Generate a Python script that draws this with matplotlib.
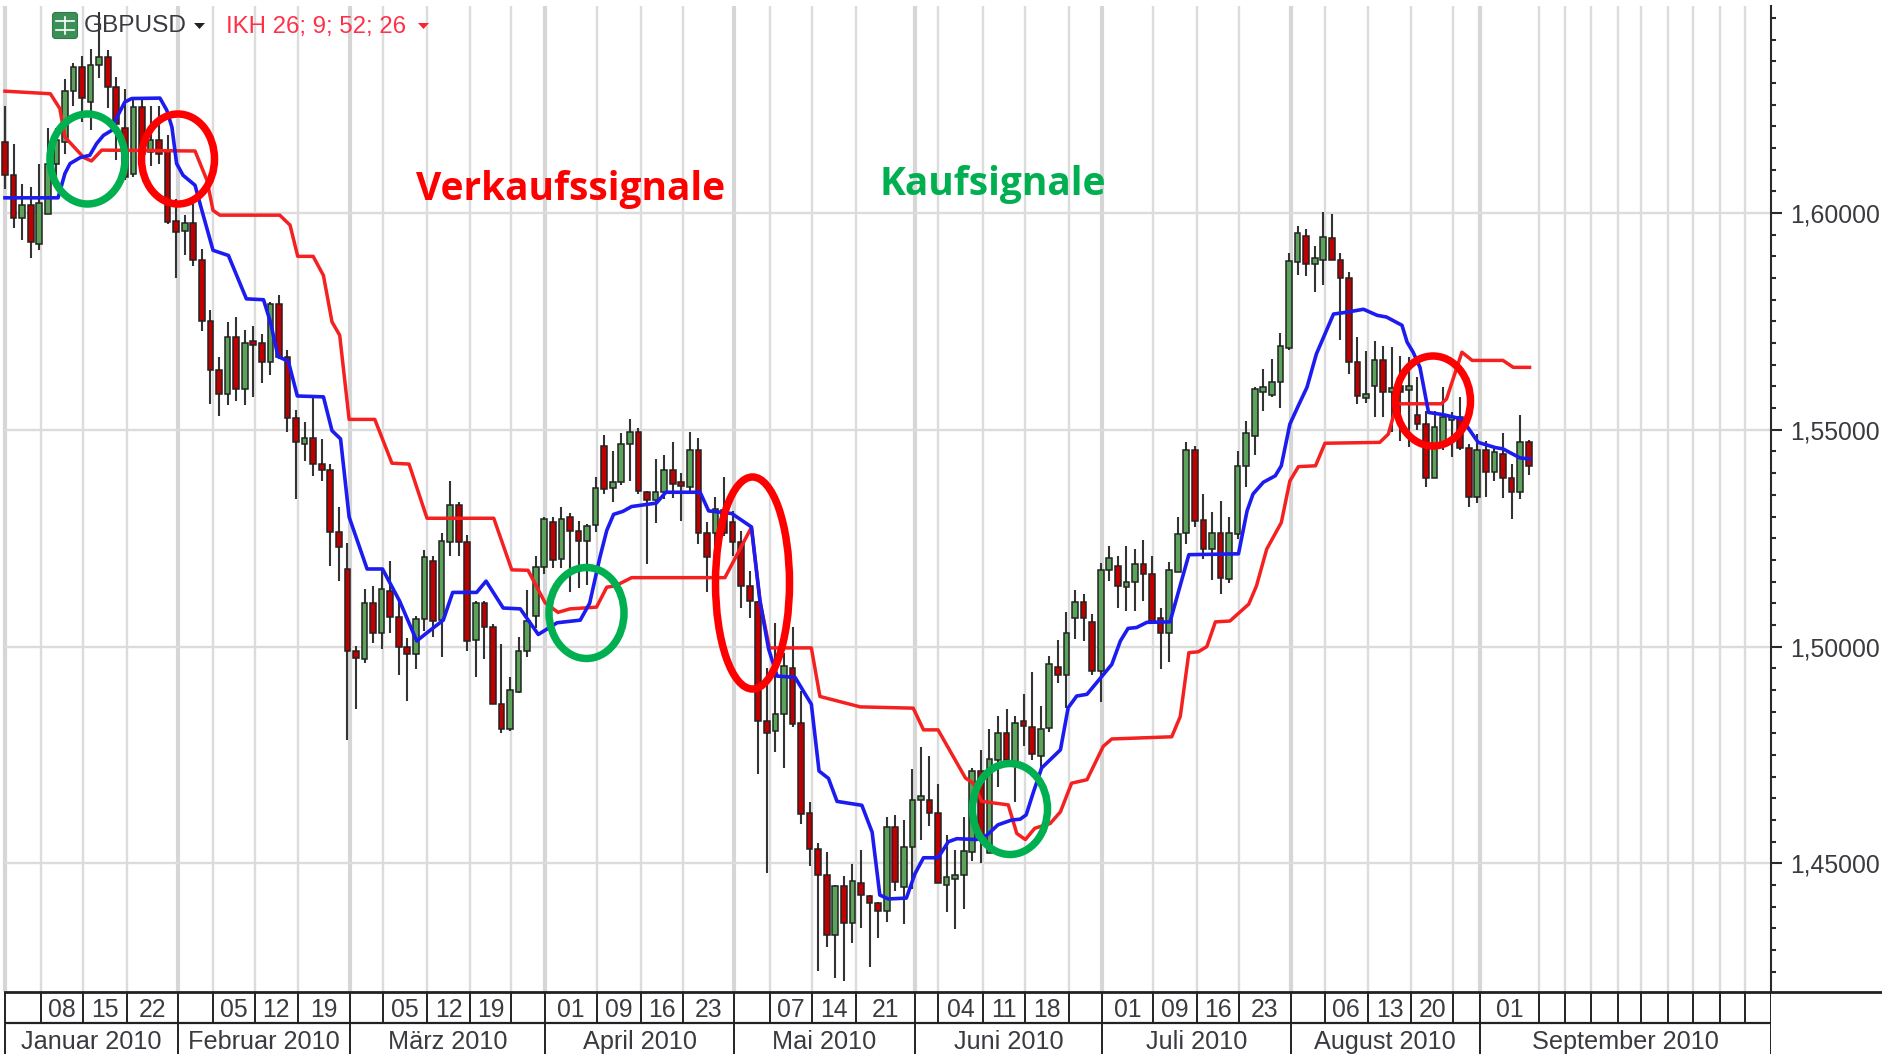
import matplotlib
matplotlib.use("Agg")
import matplotlib.pyplot as plt
from matplotlib.patches import Ellipse, FancyBboxPatch, Polygon
from matplotlib.ticker import MultipleLocator, FuncFormatter

opens = [1.6164,1.6087,1.5989,1.6018,1.5929,1.5998,1.6114,1.6164,1.6281,1.6337,
1.6256,1.6341,1.6360,1.6291,1.6195,1.6089,1.6245,1.6141,1.6169,1.6145,
1.5981,1.5958,1.5977,1.5892,1.5752,1.5637,1.5582,1.5715,1.5595,1.5705,
1.5700,1.5656,1.5789,1.5667,1.5527,1.5467,1.5481,1.5421,1.5408,1.5265,
1.5179,1.4990,1.4971,1.5101,1.5032,1.5128,1.5069,1.5000,1.4982,1.5064,
1.5198,1.5061,1.5242,1.5326,1.5242,1.5015,1.5101,1.5046,1.4867,1.4811,
1.4895,1.4990,1.5070,1.5183,1.5288,1.5202,1.5298,1.5267,1.5244,1.5280,
1.5463,1.5366,1.5379,1.5467,1.5495,1.5357,1.5338,1.5356,1.5407,1.5380,
1.5369,1.5454,1.5263,1.5263,1.5316,1.5287,1.5241,1.5140,1.5102,1.4828,
1.4806,1.4845,1.4951,1.4823,1.4617,1.4533,1.4473,1.4335,1.4447,1.4363,
1.4454,1.4425,1.4408,1.4390,1.4584,1.4445,1.4537,1.4647,1.4647,1.4617,
1.4451,1.4464,1.4473,1.4527,1.4714,1.4523,1.4739,1.4801,1.4735,1.4829,
1.4815,1.4748,1.4812,1.4954,1.4934,1.5065,1.5102,1.5056,1.4944,1.5177,
1.5185,1.5138,1.5148,1.5191,1.5168,1.5065,1.5031,1.5171,1.5263,1.5453,
1.5292,1.5226,1.5261,1.5157,1.5259,1.5416,1.5485,1.5587,1.5581,1.5610,
1.5688,1.5887,1.5948,1.5883,1.5892,1.5943,1.5892,1.5850,1.5657,1.5573,
1.5602,1.5661,1.5587,1.5602,1.5592,1.5533,1.5513,1.5388,1.5467,1.5523,
1.5529,1.5458,1.5346,1.5454,1.5402,1.5444,1.5389,1.5356,1.5473]

closes = [1.6087,1.5989,1.6018,1.5933,1.6023,1.6114,1.6168,1.6281,1.6337,1.6266,
1.6341,1.6360,1.6291,1.6206,1.6083,1.6245,1.6137,1.6169,1.6137,1.5979,
1.5956,1.5977,1.5892,1.5752,1.5637,1.5582,1.5715,1.5595,1.5701,1.5696,
1.5656,1.5789,1.5667,1.5527,1.5472,1.5481,1.5421,1.5408,1.5265,1.5229,
1.4990,1.4973,1.5101,1.5032,1.5133,1.5069,1.5000,1.4982,1.5064,1.5206,
1.5059,1.5244,1.5326,1.5242,1.5013,1.5101,1.5046,1.4867,1.4811,1.4899,
1.4990,1.5059,1.5183,1.5294,1.5200,1.5294,1.5267,1.5244,1.5279,1.5366,
1.5364,1.5380,1.5468,1.5495,1.5360,1.5338,1.5357,1.5407,1.5375,1.5370,
1.5454,1.5263,1.5206,1.5318,1.5263,1.5241,1.5140,1.5105,1.4828,1.4800,
1.4845,1.4955,1.4821,1.4615,1.4533,1.4473,1.4335,1.4447,1.4363,1.4460,
1.4427,1.4408,1.4390,1.4584,1.4458,1.4537,1.4647,1.4656,1.4617,1.4454,
1.4469,1.4473,1.4528,1.4714,1.4554,1.4741,1.4801,1.4739,1.4824,1.4818,
1.4753,1.4810,1.4959,1.4934,1.5032,1.5102,1.5065,1.4944,1.5177,1.5204,
1.5139,1.5148,1.5191,1.5168,1.5059,1.5031,1.5177,1.5259,1.5453,1.5290,
1.5226,1.5263,1.5158,1.5261,1.5417,1.5492,1.5594,1.5598,1.5611,1.5694,
1.5889,1.5954,1.5883,1.5897,1.5945,1.5892,1.5850,1.5656,1.5579,1.5583,
1.5661,1.5588,1.5597,1.5587,1.5602,1.5513,1.5388,1.5506,1.5529,1.5530,
1.5458,1.5346,1.5454,1.5402,1.5449,1.5389,1.5356,1.5473,1.5416]

highs = [1.6246,1.6158,1.6066,1.6060,1.6112,1.6195,1.6195,1.6310,1.6346,1.6361,
1.6379,1.6464,1.6375,1.6314,1.6287,1.6266,1.6266,1.6246,1.6246,1.6179,
1.6033,1.5995,1.6025,1.5918,1.5776,1.5669,1.5748,1.5761,1.5730,1.5740,
1.5721,1.5795,1.5811,1.5683,1.5546,1.5519,1.5574,1.5479,1.5421,1.5322,
1.5238,1.5002,1.5133,1.5139,1.5177,1.5198,1.5109,1.5020,1.5070,1.5222,
1.5208,1.5263,1.5382,1.5334,1.5257,1.5105,1.5105,1.5051,1.5006,1.4929,
1.5021,1.5130,1.5208,1.5299,1.5299,1.5322,1.5308,1.5290,1.5282,1.5391,
1.5488,1.5451,1.5492,1.5525,1.5505,1.5359,1.5432,1.5441,1.5473,1.5400,
1.5496,1.5482,1.5287,1.5345,1.5391,1.5312,1.5266,1.5174,1.5105,1.4951,
1.5055,1.4986,1.5046,1.4898,1.4641,1.4546,1.4526,1.4451,1.4470,1.4498,
1.4530,1.4427,1.4410,1.4608,1.4612,1.4599,1.4718,1.4769,1.4747,1.4682,
1.4566,1.4530,1.4608,1.4720,1.4761,1.4811,1.4839,1.4857,1.4839,1.4890,
1.4941,1.4863,1.4978,1.5015,1.5080,1.5131,1.5121,1.5075,1.5192,1.5233,
1.5210,1.5232,1.5224,1.5247,1.5210,1.5090,1.5196,1.5298,1.5473,1.5463,
1.5353,1.5311,1.5335,1.5298,1.5450,1.5520,1.5598,1.5640,1.5664,1.5724,
1.5908,1.5969,1.5964,1.5925,1.6002,1.5997,1.5908,1.5865,1.5714,1.5681,
1.5704,1.5694,1.5690,1.5671,1.5667,1.5621,1.5544,1.5544,1.5598,1.5540,
1.5575,1.5467,1.5490,1.5475,1.5459,1.5492,1.5421,1.5533,1.5476]

lows = [1.6056,1.5966,1.5938,1.5896,1.5914,1.5998,1.6075,1.6137,1.6246,1.6210,
1.6191,1.6312,1.6243,1.6122,1.6075,1.6083,1.6114,1.6108,1.6114,1.5975,
1.5849,1.5902,1.5877,1.5729,1.5559,1.5531,1.5557,1.5566,1.5557,1.5576,
1.5608,1.5626,1.5664,1.5494,1.5341,1.5429,1.5393,1.5383,1.5186,1.5151,
1.4784,1.4857,1.4962,1.5008,1.4994,1.5031,1.4935,1.4874,1.4948,1.5036,
1.5021,1.4975,1.5209,1.5209,1.4990,1.4929,1.4971,1.4867,1.4801,1.4806,
1.4893,1.4975,1.5044,1.5168,1.5181,1.5181,1.5126,1.5135,1.5141,1.5265,
1.5351,1.5334,1.5372,1.5382,1.5351,1.5190,1.5285,1.5340,1.5342,1.5290,
1.5356,1.5236,1.5127,1.5232,1.5254,1.5210,1.5089,1.5065,1.4707,1.4477,
1.4757,1.4720,1.4815,1.4592,1.4495,1.4251,1.4307,1.4236,1.4229,1.4316,
1.4352,1.4260,1.4329,1.4366,1.4436,1.4361,1.4440,1.4555,1.4586,1.4454,
1.4388,1.4348,1.4395,1.4506,1.4501,1.4523,1.4677,1.4731,1.4641,1.4770,
1.4738,1.4716,1.4803,1.4915,1.4859,1.5017,1.5012,1.4934,1.4873,1.5151,
1.5090,1.5083,1.5081,1.5106,1.5056,1.4948,1.4965,1.5171,1.5236,1.5276,
1.5202,1.5153,1.5121,1.5146,1.5248,1.5369,1.5443,1.5544,1.5575,1.5550,
1.5684,1.5858,1.5854,1.5818,1.5835,1.5891,1.5707,1.5629,1.5560,1.5562,
1.5530,1.5529,1.5494,1.5475,1.5461,1.5499,1.5369,1.5388,1.5453,1.5438,
1.5453,1.5323,1.5331,1.5346,1.5382,1.5342,1.5294,1.5340,1.5396]

blue_idx = [0,6.2,7.0,7.6,8.8,9.9,10.7,11.5,12.5,13.0,14.0,14.8,18.1,18.9,19.5,20.05,20.8,22.2,23.0,24.3,26.1,28.2,30.2,31.0,31.9,33.1,34.15,37.2,38.2,39.2,40.2,42.3,44.1,46.1,48.1,49.3,51.2,52.3,55.1,56.2,58.2,60.2,62.3,64.5,67.2,68.3,69.5,70.3,71.1,72.2,73.2,76.1,77.2,81.2,82.2,84.9,87.2,88.2,89.2,90.2,92.3,94.2,95.1,96.2,97.2,100.1,101.3,102.2,103.2,105.3,106.3,107.3,109.0,110.2,111.2,113.5,114.7,116.0,117.6,118.6,119.3,120.1,121.1,123.3,124.2,125.2,126.4,129.3,130.3,131.2,132.2,133.4,136.1,138.3,144.1,145.1,145.8,147.0,148.4,149.1,150.1,151.1,152.1,153.2,155.2,156.7,158.7,160.3,161.4,163.2,163.8,164.5,165.3,166.3,168.0,170.2,172.1,174.1,175.0,177.0,178.1]
blue_val = [1.6035,1.6035,1.6091,1.6114,1.6128,1.6133,1.6160,1.6179,1.6191,1.6218,1.6256,1.6264,1.6265,1.6237,1.6198,1.6114,1.6087,1.6064,1.6006,1.5914,1.5902,1.5802,1.5800,1.5749,1.5669,1.5658,1.5578,1.5576,1.5498,1.5479,1.5299,1.5179,1.5179,1.5105,1.5013,1.5032,1.5061,1.5125,1.5125,1.5151,1.5089,1.5087,1.5028,1.5055,1.5061,1.5100,1.5206,1.5268,1.5305,1.5312,1.5323,1.5331,1.5356,1.5356,1.5313,1.5307,1.5276,1.5105,1.4995,1.4932,1.4929,1.4867,1.4713,1.4696,1.4643,1.4634,1.4572,1.4427,1.4418,1.4420,1.4476,1.4513,1.4513,1.4550,1.4557,1.4555,1.4565,1.4589,1.4600,1.4602,1.4612,1.4662,1.4720,1.4762,1.4859,1.4886,1.4890,1.4959,1.5013,1.5042,1.5044,1.5056,1.5057,1.5212,1.5214,1.5313,1.5352,1.5379,1.5394,1.5417,1.5513,1.5556,1.5598,1.5675,1.5767,1.5771,1.5778,1.5764,1.5760,1.5741,1.5702,1.5679,1.5644,1.5540,1.5535,1.5525,1.5471,1.5459,1.5456,1.5435,1.5433]

red_idx = [0,5.3,6.4,7.0,9.2,10.1,11.3,22.2,23.6,24.3,25.1,32.1,33.3,34.2,36.0,37.2,38.2,39.1,40.2,43.2,45.2,47.2,49.3,57.1,59.2,61.1,63.1,64.6,66.0,69.1,70.3,71.3,73.2,84.1,87.2,88.2,89.3,94.2,95.2,99.9,106.1,107.3,109.0,112.2,113.1,114.1,117.2,118.2,119.2,120.3,122.1,123.3,124.6,126.4,128.3,129.3,136.3,137.3,138.3,139.4,140.4,141.4,143.1,145.3,146.2,147.4,149.1,150.1,151.1,153.1,154.2,160.6,161.6,162.6,167.8,168.4,170.2,171.4,175.0,176.2,178.1]
red_val = [1.6281,1.6275,1.6241,1.6175,1.6128,1.6120,1.6145,1.6143,1.6075,1.6006,1.5995,1.5995,1.5972,1.5900,1.5900,1.5856,1.5749,1.5718,1.5524,1.5524,1.5423,1.5421,1.5296,1.5296,1.5177,1.5176,1.5101,1.5079,1.5087,1.5091,1.5137,1.5140,1.5159,1.5159,1.5275,1.5105,1.4997,1.4997,1.4885,1.4861,1.4858,1.4808,1.4808,1.4697,1.4685,1.4643,1.4635,1.4569,1.4555,1.4581,1.4592,1.4619,1.4685,1.4693,1.4770,1.4787,1.4792,1.4839,1.4986,1.4988,1.5000,1.5057,1.5059,1.5098,1.5140,1.5225,1.5286,1.5382,1.5415,1.5417,1.5469,1.5471,1.5490,1.5560,1.5560,1.5571,1.5679,1.5660,1.5660,1.5644,1.5644]

week_ticks = [4.2,9.1,14.25,20.2,24.3,29.2,34.2,40.3,44.2,49.3,54.3,59.1,63.1,69.2,74.3,79.2,85.2,89.4,94.3,99.4,106.3,109.0,114.3,119.2,124.3,128.2,134.1,139.3,144.2,150.2,154.2,159.2,164.3,169.2,172.3,179.2,182.2,185.3,188.4,191.1,194.3,197.2,200.3,203.3]
week_labels = ["08","15","22","","05","12","19","","05","12","19","","01","09","16","23","","07","14","21","","04","11","18","","01","09","16","23","","06","13","20","","01","","","","","","","","",""]
month_ticks = [0,20.2,40.3,63.1,85.2,106.3,128.2,150.2,172.3,206.3]
month_labels = ["Januar 2010","Februar 2010","März 2010","April 2010","Mai 2010","Juni 2010","Juli 2010","August 2010","September 2010"]
price_ticks = [1.45,1.50,1.55,1.60]

W, H = 1883, 1054
AX_R, AX_B = 1771, 992
PX = 8.56
fig = plt.figure(figsize=(W/100, H/100), dpi=100, facecolor="white")
plt.rcParams["font.family"] = ["Liberation Sans", "DejaVu Sans"]
TXT = "#3a3a40"

ax = fig.add_axes([0, (H-AX_B)/H, AX_R/W, AX_B/H])
xmin, xmax = -5/PX, (AX_R-5)/PX
ymin, ymax = 1.60-(AX_B-213)/4336, 1.60+213/4336
ax.set_xlim(xmin, xmax)
ax.set_ylim(ymin, ymax)
top_grid = 1.60+207/4336

for t in month_ticks[:-1]:
    ax.vlines(t, ymin, top_grid, color="#d6d6d6", lw=3.0, zorder=1)
thick = set(month_ticks)
for t in week_ticks:
    if t not in thick:
        ax.vlines(t, ymin, top_grid, color="#dcdcdc", lw=1.7, zorder=1)
ax.hlines(price_ticks, 0, xmax, color="#dcdcdc", lw=1.7, zorder=1)

xs = list(range(len(opens)))
ax.vlines(xs, lows, highs, color="#333333", lw=1.5, zorder=2)
cols = ["#5BA35B" if c >= o else "#C00000" for o, c in zip(opens, closes)]
ax.bar(xs, [abs(c-o) for o, c in zip(opens, closes)], bottom=[min(o, c) for o, c in zip(opens, closes)],
       width=0.66, color=cols, edgecolor="#222222", linewidth=1.1, zorder=3)

ax.plot(red_idx, red_val, color="#F52020", lw=2.5, zorder=4, solid_joinstyle="round")
ax.plot(blue_idx, blue_val, color="#1C1CF0", lw=2.6, zorder=5, solid_joinstyle="round")

for s in ("left", "top", "bottom"):
    ax.spines[s].set_visible(False)
ax.spines["right"].set_color("#2a2a2a")
ax.spines["right"].set_linewidth(1.5)
ax.spines["right"].set_bounds(ymin, top_grid)
ax.patch.set_alpha(0)
ax.set_xticks([])
ax.yaxis.tick_right()
ax.yaxis.set_major_locator(MultipleLocator(0.05))
ax.yaxis.set_minor_locator(MultipleLocator(0.005))
ax.yaxis.set_major_formatter(FuncFormatter(lambda v, _: f"{v:.5f}".replace(".", ",")))
ax.tick_params(axis="y", which="major", length=8, width=1.5, color="#2a2a2a", pad=6, labelsize=17.8, labelcolor=TXT)
ax.tick_params(axis="y", which="minor", length=3.6, width=1.5, color="#2a2a2a")

# date strip
ax2 = fig.add_axes([0, 0, AX_R/W, (H-AX_B)/H])
ax2.set_xlim(xmin, xmax)
ax2.set_ylim(2, 0)
ax2.axis("off")
LINE = "#222222"
ax2.hlines(1, 0, xmax, color=LINE, lw=1.6)
ax2.vlines([0]+week_ticks+[xmax], 0, 1, color=LINE, lw=1.4)
ax2.vlines(month_ticks, 1, 2, color=LINE, lw=1.4)
edges = week_ticks+[xmax]
for i, lab in enumerate(week_labels):
    if lab:
        ax2.text((edges[i]+edges[i+1])/2, 0.57, lab, ha="center", va="center", fontsize=17.8, color=TXT)
for i, lab in enumerate(month_labels):
    ax2.text((month_ticks[i]+month_ticks[i+1])/2, 1.60, lab, ha="center", va="center", fontsize=18.2, color=TXT)

# overlay in figure pixels
ov = fig.add_axes([0, 0, 1, 1], zorder=10)
ov.set_xlim(0, W)
ov.set_ylim(H, 0)
ov.axis("off")
ov.plot([5, W], [AX_B, AX_B], color=LINE, lw=2.0)

EW = 5.4
for cx, cy, w, h, c in [(87.5, 159, 75, 90, "#00B050"), (178, 159, 73, 90, "#FF0000"),
                        (586.5, 613, 75, 91, "#00B050"), (752.5, 583, 74, 212, "#FF0000"),
                        (1010, 809, 75, 91, "#00B050"), (1433, 401, 75, 90, "#FF0000")]:
    ov.add_patch(Ellipse((cx, cy), w, h, fill=False, edgecolor=c, lw=EW))

ov.text(570.5, 189.5, "Verkaufssignale", color="#FF0000", fontsize=28, fontweight="bold",
        family="Open Sans", ha="center", va="center")
ov.text(993, 184.5, "Kaufsignale", color="#00B050", fontsize=28, fontweight="bold",
        family="Open Sans", ha="center", va="center")

ov.add_patch(FancyBboxPatch((54, 14), 22, 23, boxstyle="round,pad=1.5,rounding_size=3",
                            facecolor="#3D8F58", edgecolor="#2F7A48", lw=0.8))
ov.plot([56, 74], [21, 21], color="white", lw=1.2)
ov.plot([56, 74], [30, 30], color="white", lw=1.2)
ov.plot([65, 65], [17, 34], color="white", lw=1.2)
ov.text(84, 26.5, "GBPUSD", fontsize=17.6, color=TXT, ha="left", va="center")
ov.add_patch(Polygon([(194, 23), (205, 23), (199.5, 29)], closed=True, facecolor="#222222", edgecolor="none"))
ov.text(226, 26.5, "IKH 26; 9; 52; 26", fontsize=17.3, color="#FF3048", ha="left", va="center")
ov.add_patch(Polygon([(418, 23), (429, 23), (423.5, 29)], closed=True, facecolor="#FF2030", edgecolor="none"))

fig.savefig("out.png", dpi=100)
